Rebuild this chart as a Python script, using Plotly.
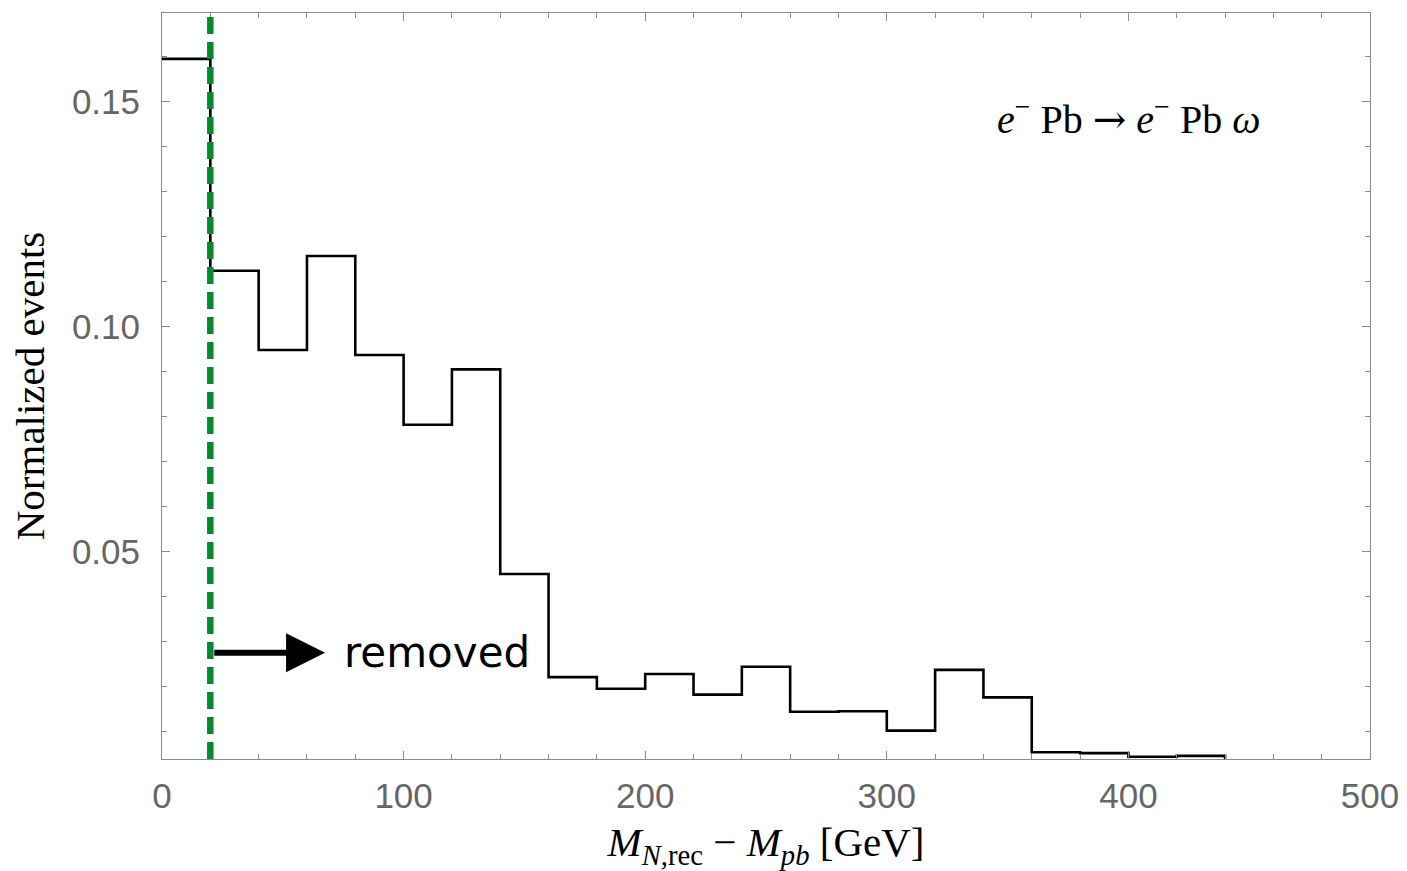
import plotly.graph_objects as go

# Data (20 GeV bins)
bin_edges = [0, 20, 40, 60, 80, 100, 120, 140, 160, 180, 200, 220,
             240, 260, 280, 300, 320, 340, 360, 380, 400, 420, 440]
normalized_events = [0.1595, 0.1124, 0.0948, 0.1157, 0.0937, 0.0782, 0.0905,
                     0.0450, 0.0221, 0.0195, 0.0228, 0.0182, 0.0244, 0.0144,
                     0.0145, 0.0102, 0.0237, 0.0176, 0.0054, 0.0052, 0.0044,
                     0.0046]
cut_value = 20
x_tick_vals = [0, 100, 200, 300, 400, 500]
y_tick_vals = [0.05, 0.10, 0.15]
x_range = [0, 500]
y_range = [0.0039, 0.1697]

step_x = bin_edges + [bin_edges[-1]]
step_y = normalized_events + [normalized_events[-1], 0.0]

fig = go.Figure()
fig.add_trace(go.Scatter(
    x=step_x, y=step_y, mode="lines", line=dict(shape="hv", color="black", width=2.6),
    showlegend=False, hoverinfo="skip", cliponaxis=True))

fig.add_shape(type="line", x0=cut_value, x1=cut_value, y0=0, y1=1, xref="x", yref="paper",
              line=dict(color="#07892d", width=6.5, dash="17px,8px"))

fig.add_annotation(x=67.5, y=0.0275, ax=cut_value + 1, ay=0.0275, xref="x", yref="y",
                   axref="x", ayref="y", showarrow=True, arrowhead=2, arrowsize=1.3,
                   arrowwidth=6, arrowcolor="black", text="")
fig.add_annotation(x=74.5, y=0.0275, xref="x", yref="y", text="removed", showarrow=False,
                   xanchor="left", yanchor="middle",
                   font=dict(family="DejaVu Sans", size=42, color="black"))
fig.add_annotation(x=400, y=0.1466, xref="x", yref="y",
                   text="<i>e</i><sup>−</sup> Pb <span style=\"font-family:'DejaVu Serif'\">→</span> <i>e</i><sup>−</sup> Pb <i>ω</i>",
                   showarrow=False, xanchor="center", yanchor="middle",
                   font=dict(family="Liberation Serif", size=40, color="black"))

axis_common = dict(showline=True, linecolor="#8c8c8c", linewidth=1, mirror="ticks",
                   ticks="inside", ticklen=8, tickwidth=1.2, tickcolor="#8c8c8c",
                   showgrid=False, zeroline=False,
                   tickfont=dict(family="Liberation Sans", size=35, color="#666666"))

fig.update_xaxes(range=x_range, tickvals=x_tick_vals, ticklabelstandoff=6,
                 minor=dict(dtick=20, tick0=0, ticks="inside", ticklen=5, tickcolor="#8c8c8c", showgrid=False),
                 title=dict(text="<i>M</i><sub><i>N</i>,rec</sub> − <i>M</i><sub><i>pb</i></sub> [GeV]",
                            font=dict(family="Liberation Serif", size=41, color="black"), standoff=28),
                 **axis_common)
fig.update_yaxes(range=y_range, tickvals=y_tick_vals, tickformat=".2f", ticklabelstandoff=14,
                 minor=dict(dtick=0.01, tick0=0, ticks="inside", ticklen=5, tickcolor="#8c8c8c", showgrid=False),
                 title=dict(text="Normalized events",
                            font=dict(family="Liberation Serif", size=41, color="black"), standoff=14),
                 **axis_common)

fig.update_layout(width=1407, height=871, margin=dict(l=162, r=37, t=13, b=112, autoexpand=False),
                  paper_bgcolor="white", plot_bgcolor="white")
fig.write_html("out.html")
